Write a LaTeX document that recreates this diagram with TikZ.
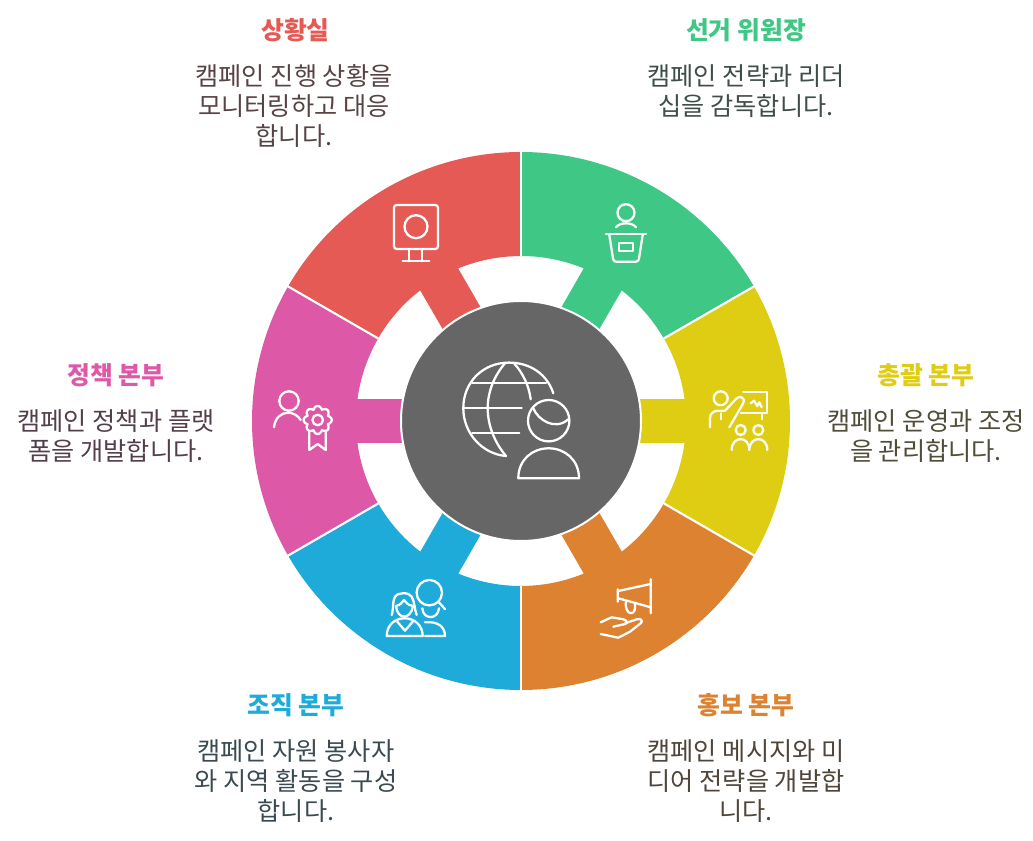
\documentclass[tikz,border=0pt]{standalone}
\usepackage{fontspec}
\setmainfont{Noto Sans CJK KR}
\definecolor{cred}{HTML}{E55A54}
\definecolor{cgreen}{HTML}{3EC785}
\definecolor{cyellow}{HTML}{DFCD13}
\definecolor{corange}{HTML}{DD8230}
\definecolor{cblue}{HTML}{1EABDA}
\definecolor{cpink}{HTML}{DE58A8}
\definecolor{cgray}{HTML}{666666}
\definecolor{tred}{HTML}{574344}
\definecolor{tgreen}{HTML}{3F4E47}
\definecolor{tyellow}{HTML}{504E38}
\definecolor{torange}{HTML}{4F453A}
\definecolor{tblue}{HTML}{3A4A50}
\definecolor{tpink}{HTML}{523F4B}
\tikzset{
  x=0.75pt,y=-0.75pt,
  ico/.style={draw=white,line width=1.7pt,line cap=round,line join=round},
  ttl/.style={font=\fontsize{18.6pt}{22pt}\selectfont\bfseries,anchor=center,inner sep=0pt},
  bdy/.style={font=\fontsize{18.9pt}{22.5pt}\selectfont,align=center,anchor=center,inner sep=0pt},
}
\newcommand{\sector}[2]{%
  \begin{scope}[shift={(521,421)},rotate=#1,x=0.75pt,y=0.75pt]
    \fill[#2] (-30:269) arc[start angle=-30,end angle=30,radius=269]
      -- (30:165) arc[start angle=30,end angle=7.66,radius=165]
      -- (110,21.9) -- (110,-21.9) -- (163.5,-21.9)
      arc[start angle=-7.66,end angle=-30,radius=165] -- cycle;
    \draw[white,line width=1.5pt] (30:165) -- (30:270);
    \draw[white,line width=1.5pt] (-30:165) -- (-30:270);
  \end{scope}}
\begin{document}
\begin{tikzpicture}
\useasboundingbox (0,0) rectangle (1033,841);
\sector{120}{cred}
\sector{60}{cgreen}
\sector{0}{cyellow}
\sector{-60}{corange}
\sector{-120}{cblue}
\sector{180}{cpink}
\coordinate (c) at (521,421);
\path[fill=cgray,draw=white,line width=1.5pt] (c) circle (120);
% red icon
\draw[ico] (394,205) [rounded corners=2pt] rectangle (438,249);
\draw[ico] (416,226.7) circle (11.5);
\draw[ico] (409.3,249) -- (409.3,261.3) (422.3,249) -- (422.3,261.3) (402.7,261.3) -- (429.3,261.3);
% green icon
\draw[ico] (626,212.7) circle (8.5);
\draw[ico] (616,227.3) .. controls (620,222) and (632,222) .. (636,227.3);
\draw[ico] (606,234) -- (646,234);
\draw[ico,rounded corners=2pt] (609.3,235) -- (613.5,261.7) -- (638.5,261.7) -- (642.7,235);
\draw[ico] (619.3,243.3) rectangle (632.7,251);
% globe
\draw[ico] (553.3,393.3) .. controls (547,374) and (530,362.6) .. (509,362.6)
  .. controls (483,362.6) and (463.3,382) .. (463.3,408.3)
  .. controls (463.3,433) and (482,454) .. (506,456);
\draw[ico] (505,363.3) .. controls (494,376) and (487.7,392) .. (487.7,408.3)
  .. controls (487.7,426) and (495,443) .. (506,456);
\draw[ico] (514,363.3) .. controls (523,373) and (529,386) .. (530.7,399.3);
\draw[ico] (472.3,383.3) -- (546,383.3) (463.3,408.3) -- (521.7,408.3) (472.3,433.3) -- (519.3,433.3);
\draw[ico] (548.7,420.7) circle (20.7);
\draw[ico] (533.3,408.3) .. controls (538,420) and (555,431) .. (568.3,419.3);
\draw[ico] (518.3,478.3) .. controls (518.3,460) and (532,448.3) .. (548.7,448.3)
  .. controls (565,448.3) and (579,460) .. (579,478.3) -- cycle;
% yellow icon
\draw[ico] (720.7,398.3) circle (7);
\draw[ico] (710,427.3) -- (710,418.3) .. controls (710,413) and (714,410.7) .. (718.3,410.7)
  -- (725,410.7) -- (736.7,398.3) .. controls (740,394.5) and (746,399) .. (743.3,403) -- (729.3,427.3);
\draw[ico] (720.7,413.3) -- (720.7,419.3) (761.7,413.3) -- (761.7,419.3);
\draw[ico] (743.3,391.7) -- (766.7,391.7) -- (766.7,413.3) -- (741,413.3);
\draw[ico] (750.7,403.3) -- (754,400.7) -- (757.3,406) -- (759.3,402.3) -- (761.7,407.3);
\draw[ico] (740.7,430) circle (5) (758.3,430) circle (5);
\draw[ico] (731.7,450) .. controls (731.7,435.5) and (749.3,435.5) .. (749.3,450)
  .. controls (749.3,435.5) and (767.3,435.5) .. (767.3,450);
% orange icon
\draw[ico] (650.7,579.3) -- (650.7,613.3) (650.7,584) -- (618.3,591) (650.7,607.3) -- (618.3,598.3) (617.7,589.3) -- (617.7,601.7);
\draw[ico] (626,601.7) .. controls (624,616) and (637,617) .. (635,604.3);
\draw[ico] (600.7,622.3) -- (611.7,617.3) -- (623.3,619.3) .. controls (627,620) and (628,623.5) .. (625,624) -- (613.3,626.7);
\draw[ico] (625,623.3) -- (636.7,619.3) .. controls (641,618) and (643,621) .. (641,623) -- (630,631.7) -- (618.3,637.7) -- (600.7,634);
% blue icon
\draw[ico] (429.3,592.7) circle (12.7);
\draw[ico] (438.3,601.7) -- (445,609);
\draw[ico] (391.7,615) .. controls (394,607) and (392,603) .. (395,596.7) .. controls (398,592) and (409,592) .. (411.7,596.7)
  .. controls (415,603) and (414,607) .. (416.7,615);
\draw[ico] (396,606) .. controls (397,620) and (411,620) .. (413,606) .. controls (408,605) and (406,603) .. (404,600) .. controls (402,603) and (400,605) .. (396,606);
\draw[ico] (386.7,636) .. controls (386.7,625) and (395,618.3) .. (404.7,618.3) .. controls (414,618.3) and (422.7,625) .. (422.7,636) -- cycle;
\draw[ico] (397.3,621.7) -- (405,630.7) -- (412.7,621.7);
\draw[ico] (422.3,608.3) .. controls (423,620) and (438,620) .. (439,608.3);
\draw[ico] (425,622.3) .. controls (438,621) and (445,627) .. (445,636) -- (425,636);
% pink icon
\draw[ico] (289,401) circle (9.7);
\draw[ico] (274,427.3) .. controls (275,418) and (281,412.7) .. (288.3,412.7) .. controls (293,412.7) and (298,415.5) .. (300.7,420);
\draw[ico] (317.7,420) circle (5.3);
\draw[ico] plot[samples=145,domain=0:360,variable=\t] ({317.7+(11+3*abs(cos(4*\t)))*cos(\t)},{420+(11+3*abs(cos(4*\t)))*sin(\t)}) -- cycle;
\draw[ico] (309.3,431.7) -- (309.3,450) -- (317.7,444) -- (325.7,450) -- (325.7,431.7);
% text
\node[ttl,text=cred] (t1) at (295.5,30) {상황실};
\node[bdy,text=tred] (b1) at (294,106) {캠페인 진행 상황을\\모니터링하고 대응\\합니다.};
\node[ttl,text=cgreen] (t2) at (746,30) {선거 위원장};
\node[bdy,text=tgreen] (b2) at (746,91) {캠페인 전략과 리더\\십을 감독합니다.};
\node[ttl,text=cyellow] (t3) at (926,375) {총괄 본부};
\node[bdy,text=tyellow] (b3) at (926,436) {캠페인 운영과 조정\\을 관리합니다.};
\node[ttl,text=corange] (t4) at (746,705) {홍보 본부};
\node[bdy,text=torange] (b4) at (746,781) {캠페인 메시지와 미\\디어 전략을 개발합\\니다.};
\node[ttl,text=cblue] (t5) at (296,705) {조직 본부};
\node[bdy,text=tblue] (b5) at (296,781) {캠페인 자원 봉사자\\와 지역 활동을 구성\\합니다.};
\node[ttl,text=cpink] (t6) at (116,375) {정책 본부};
\node[bdy,text=tpink] (b6) at (116,436) {캠페인 정책과 플랫\\폼을 개발합니다.};
\end{tikzpicture}
\end{document}
